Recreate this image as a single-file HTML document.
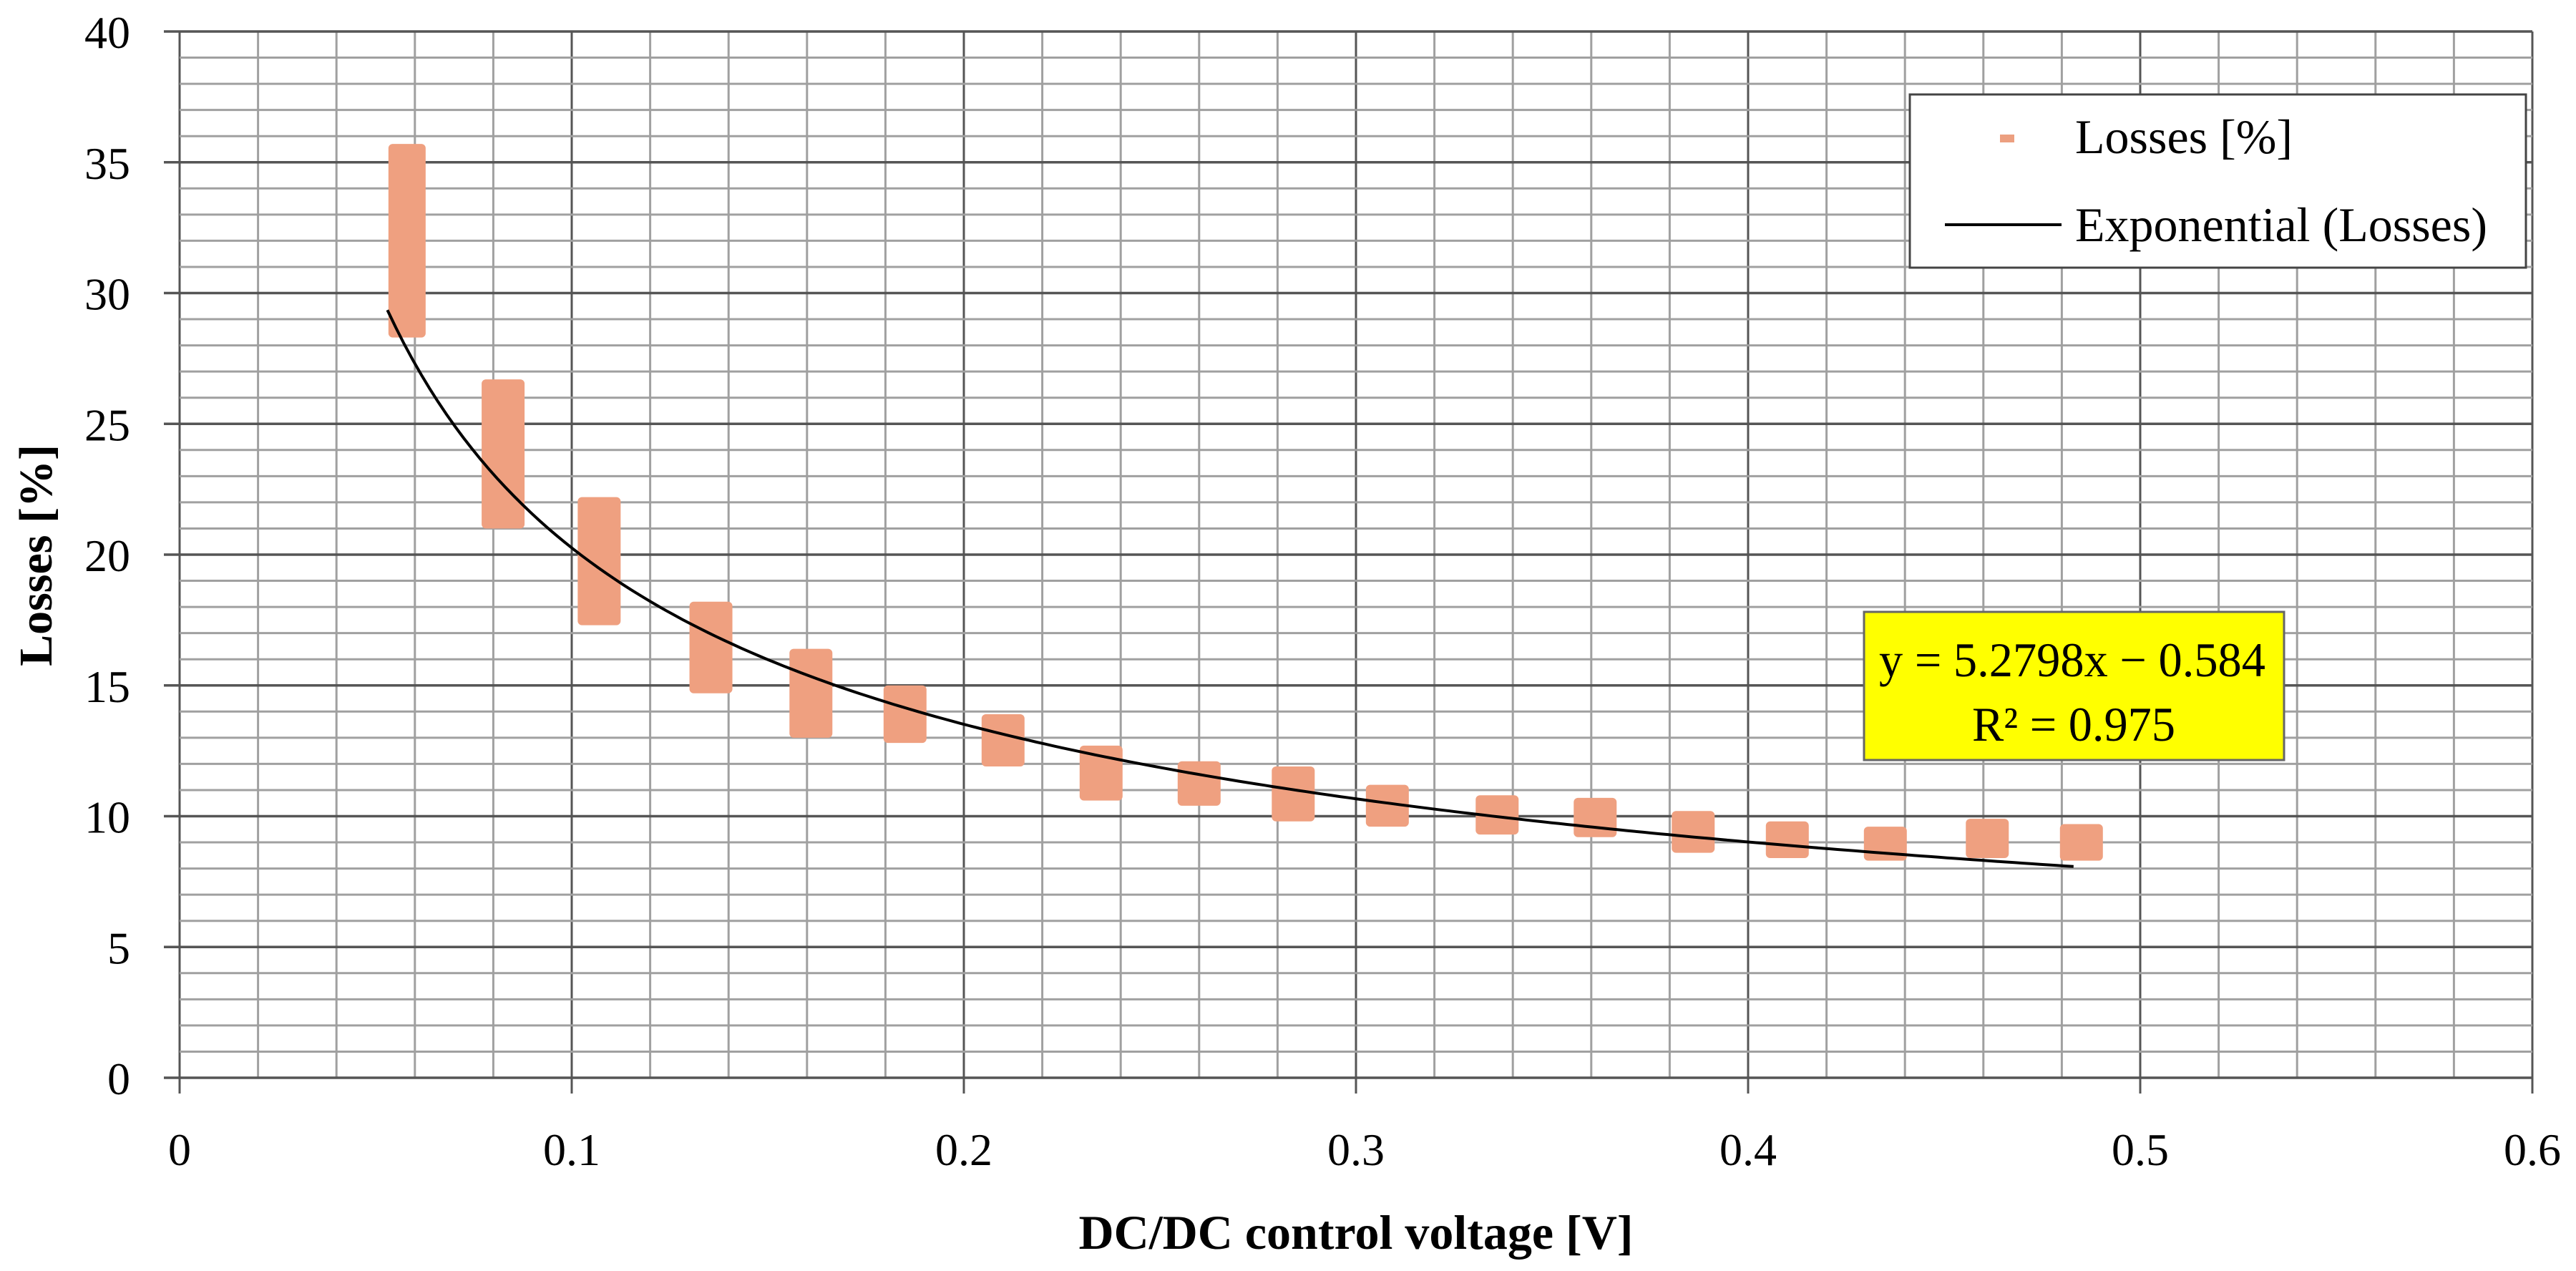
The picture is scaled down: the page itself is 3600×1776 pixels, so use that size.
<!DOCTYPE html>
<html><head><meta charset="utf-8"><style>
html,body{margin:0;padding:0;background:#fff;}
svg{display:block;font-family:"Liberation Serif",serif;}
</style></head><body>
<svg id="chart" width="3600" height="1776" viewBox="0 0 3600 1776" xmlns="http://www.w3.org/2000/svg">
<g id="grid"></g>
<g id="marks"></g>
<g id="trend"></g>
<g id="axes"></g>
<text transform="translate(72,776) rotate(-90)" text-anchor="middle" font-size="66" font-weight="bold">Losses [%]</text>
<text x="1895" y="1745" text-anchor="middle" font-size="68" font-weight="bold">DC/DC control voltage [V]</text>
<g>
<rect x="2669" y="132" width="861" height="242" fill="#fff" stroke="#444" stroke-width="3"/>
<rect x="2795" y="188" width="20" height="11" fill="#ec9f80"/>
<text x="2900" y="214" font-size="68">Losses [%]</text>
<line x1="2718" y1="314" x2="2881" y2="314" stroke="#000" stroke-width="4"/>
<text x="2900" y="337" font-size="68">Exponential (Losses)</text>
</g>
<g>
<rect x="2605" y="855" width="587" height="207" fill="#ffff00" stroke="#666" stroke-width="3"/>
<text x="2626" y="945" font-size="68" textLength="540" lengthAdjust="spacingAndGlyphs">y = 5.2798x − 0.584</text>
<text x="2756" y="1035" font-size="68" textLength="284" lengthAdjust="spacingAndGlyphs">R² = 0.975</text>
</g>
</svg>
<script>
const xTicks = [0, 0.1, 0.2, 0.3, 0.4, 0.5, 0.6];
const xTickLabels = ["0", "0.1", "0.2", "0.3", "0.4", "0.5", "0.6"];
const yTicks = [0, 5, 10, 15, 20, 25, 30, 35, 40];
const yTickLabels = ["0", "5", "10", "15", "20", "25", "30", "35", "40"];
const clusterX = [0.058, 0.0825, 0.107, 0.1355, 0.161, 0.185, 0.21, 0.235, 0.26, 0.284, 0.308, 0.336, 0.361, 0.386, 0.41, 0.435, 0.461, 0.485];
const clusterMin = [28.3, 21.0, 17.3, 14.7, 13.0, 12.8, 11.9, 10.6, 10.4, 9.8, 9.6, 9.3, 9.2, 8.6, 8.4, 8.3, 8.4, 8.3];
const clusterMax = [35.7, 26.7, 22.2, 18.2, 16.4, 15.0, 13.9, 12.7, 12.1, 11.9, 11.2, 10.8, 10.7, 10.2, 9.8, 9.6, 9.9, 9.7];
const trendA = 5.2798;
const trendB = -0.584;
const trendRange = [0.053, 0.483];

const NS = "http://www.w3.org/2000/svg";
const X0 = 251, X1 = 3539, Y0 = 1506, Y1 = 44;
function sx(v){ return X0 + (v - 0) / 0.6 * (X1 - X0); }
function sy(v){ return Y0 - v / 40 * (Y0 - Y1); }
function mk(tag, attrs, parent){
  const e = document.createElementNS(NS, tag);
  for (const k in attrs) e.setAttribute(k, attrs[k]);
  parent.appendChild(e);
  return e;
}
const grid = document.getElementById('grid');
const axes = document.getElementById('axes');
for (let i = 0; i <= 30; i++) {
  const v = i * 0.02;
  const major = i % 5 === 0;
  const l = mk('line', {x1: sx(v), x2: sx(v), y1: Y1, y2: major ? Y0 + 22 : Y0, stroke: major ? '#555' : '#a0a0a0', 'stroke-width': 3}, grid);
  
  
}
for (let i = 0; i <= 40; i++) {
  const major = i % 5 === 0;
  const l = mk('line', {x1: major ? X0 - 22 : X0, x2: X1, y1: sy(i), y2: sy(i), stroke: major ? '#555' : '#a0a0a0', 'stroke-width': major ? 3.5 : 3}, grid);
  
  
}
xTicks.forEach((v, i) => {
  const t = mk('text', {x: sx(v), y: 1628, 'text-anchor': 'middle', 'font-size': 64}, axes);
  t.textContent = xTickLabels[i];
  
  
});
yTicks.forEach((v, i) => {
  const t = mk('text', {x: 182, y: sy(v) + 23, 'text-anchor': 'end', 'font-size': 64}, axes);
  t.textContent = yTickLabels[i];
  
  
});
const marks = document.getElementById('marks');
clusterX.forEach((v, i) => {
  const w = i === 0 ? 52 : 60;
  const top = sy(clusterMax[i]), bot = sy(clusterMin[i]);
  const r = mk('rect', {x: sx(v) - w / 2, y: top, width: w, height: bot - top, rx: 6, fill: '#efa080'}, marks);
  
  
});
let d = '';
for (let i = 0; i <= 200; i++) {
  const x = trendRange[0] + (trendRange[1] - trendRange[0]) * i / 200;
  const y = trendA * Math.pow(x, trendB);
  d += (i ? 'L' : 'M') + sx(x).toFixed(1) + ',' + sy(y).toFixed(1);
}
const p = mk('path', {d: d, fill: 'none', stroke: '#000', 'stroke-width': 4}, document.getElementById('trend'));


</script>
</body></html>
